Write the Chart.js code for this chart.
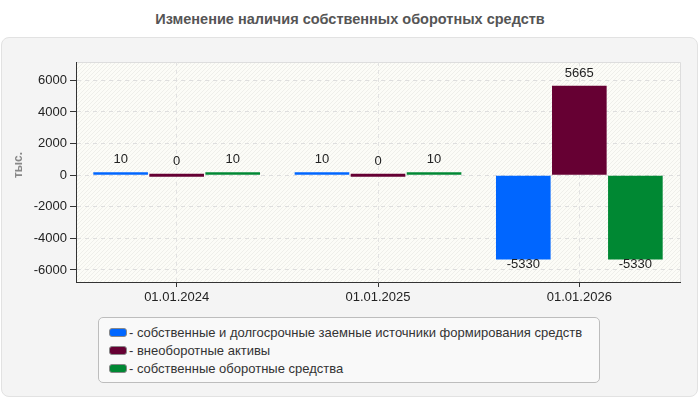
<!DOCTYPE html>
<html>
<head>
<meta charset="utf-8">
<script src="https://cdn.jsdelivr.net/npm/chart.js@4/dist/chart.umd.min.js"></script>
<style>
  html, body { margin: 0; padding: 0; background: #fff; }
  body { width: 700px; height: 400px; position: relative; overflow: hidden; font-family: "Liberation Sans", Arial, sans-serif; }
  #titulo { position: absolute; left: 0; top: 11px; width: 700px; text-align: center; font-size: 14.5px; font-weight: bold; color: #555; }
  #panel { position: absolute; left: 1px; top: 37px; width: 695px; height: 358px; background: #f4f4f4; border: 1px solid #e2e2e2; border-radius: 8px; }
  #grafico { position: absolute; left: 0; top: 0; }
  #leyenda { position: absolute; left: 98px; top: 317px; width: 502px; height: 66px; background: #f9f9f9; border: 1px solid #bdbdbd; border-radius: 5px; box-sizing: border-box; padding-top: 6px; }
  .item { height: 18px; line-height: 18px; font-size: 13px; color: #333; padding-left: 10px; white-space: nowrap; }
  .cuadro { display: inline-block; width: 16px; height: 7px; border-radius: 3px; border: 1px solid #888; margin-right: 2px; vertical-align: middle; position: relative; top: -1px; }
</style>
</head>
<body>
<div id="titulo">Изменение наличия собственных оборотных средств</div>
<div id="panel"></div>
<canvas id="grafico" width="700" height="400"></canvas>
<div id="leyenda"></div>
<script>
// Datos del gráfico
const categorias = ['01.01.2024', '01.01.2025', '01.01.2026'];
const nombresSeries = [
  'собственные и долгосрочные заемные источники формирования средств',
  'внеоборотные активы',
  'собственные оборотные средства'
];
const fuentesFormacion = [10, 10, -5330];
const activosFijos = [0, 0, 5665];
const capitalTrabajo = [10, 10, -5330];
const coloresSeries = ['#0066ff', '#660033', '#008833'];
const ticksY = [-6000, -4000, -2000, 0, 2000, 4000, 6000];
const tituloY = 'тыс.';

const fuente = '"Liberation Sans", Arial, sans-serif';

// Leyenda en HTML
const leyenda = document.getElementById('leyenda');
nombresSeries.forEach((nombre, i) => {
  const fila = document.createElement('div');
  fila.className = 'item';
  fila.innerHTML = '<span class="cuadro" style="background:' + coloresSeries[i] + '"></span>- ' + nombre;
  leyenda.appendChild(fila);
});

// Fondo rayado del área del gráfico
const fondoPlugin = {
  id: 'fondo',
  beforeDraw(chart) {
    const a = chart.chartArea;
    const ctx = chart.ctx;
    ctx.save();
    ctx.fillStyle = '#fcfcf7';
    ctx.fillRect(a.left, a.top, a.right - a.left, a.bottom - a.top);
    ctx.beginPath();
    ctx.rect(a.left, a.top, a.right - a.left, a.bottom - a.top);
    ctx.clip();
    ctx.strokeStyle = 'rgba(0,0,0,0.05)';
    ctx.lineWidth = 1;
    ctx.beginPath();
    for (let x = a.left - (a.bottom - a.top); x < a.right; x += 4) {
      ctx.moveTo(x, a.bottom);
      ctx.lineTo(x + (a.bottom - a.top), a.top);
    }
    ctx.stroke();
    ctx.restore();
    // borde superior y derecho claros
    ctx.save();
    ctx.strokeStyle = '#dddddd';
    ctx.beginPath();
    ctx.moveTo(a.left, a.top + 0.5);
    ctx.lineTo(a.right + 0.5, a.top + 0.5);
    ctx.lineTo(a.right + 0.5, a.bottom);
    ctx.stroke();
    ctx.restore();
  },
  afterDraw(chart) {
    // título del eje Y, un poco por encima del centro
    const ctx = chart.ctx;
    ctx.save();
    ctx.translate(19, 165);
    ctx.rotate(-Math.PI / 2);
    ctx.font = 'bold 12px ' + fuente;
    ctx.fillStyle = '#888';
    ctx.textAlign = 'center';
    ctx.textBaseline = 'middle';
    ctx.fillText(tituloY, 0, 0);
    ctx.restore();
  }
};

// Etiquetas con valores sobre/bajo las barras
const etiquetasPlugin = {
  id: 'etiquetas',
  afterDatasetsDraw(chart) {
    const ctx = chart.ctx;
    ctx.save();
    ctx.font = '13px ' + fuente;
    ctx.fillStyle = '#222';
    ctx.textAlign = 'center';
    chart.data.datasets.forEach((ds, i) => {
      chart.getDatasetMeta(i).data.forEach((bar, j) => {
        const v = ds.data[j];
        if (v < 0) {
          ctx.textBaseline = 'top';
          ctx.fillText(String(v), bar.x, bar.y - 1);
        } else {
          ctx.textBaseline = 'bottom';
          ctx.fillText(String(v), bar.x, Math.min(bar.y, bar.base) - 6);
        }
      });
    });
    ctx.restore();
  }
};

const ctx = document.getElementById('grafico');
new Chart(ctx, {
  type: 'bar',
  data: {
    labels: categorias,
    datasets: [
      { label: nombresSeries[0], data: fuentesFormacion, backgroundColor: coloresSeries[0] },
      { label: nombresSeries[1], data: activosFijos, backgroundColor: coloresSeries[1] },
      { label: nombresSeries[2], data: capitalTrabajo, backgroundColor: coloresSeries[2] }
    ]
  },
  options: {
    responsive: false,
    animation: false,
    layout: { padding: { left: 10, top: 62, right: 20, bottom: 88 } },
    datasets: { bar: { categoryPercentage: 0.835, barPercentage: 0.975, minBarLength: 3 } },
    plugins: {
      legend: { display: false },
      tooltip: { enabled: false }
    },
    scales: {
      x: {
        grid: { offset: false, color: '#e2e2e2', tickColor: '#333', tickLength: 5 },
        border: { color: '#333', dash: [4, 4] },
        ticks: { color: '#222', font: { size: 13, family: fuente }, padding: 3 },
        afterFit(s) { s.height = 30; }
      },
      y: {
        min: -6760,
        max: 7160,
        afterBuildTicks(s) { s.ticks = ticksY.map(v => ({ value: v })); },
        grid: { color: '#dedede', tickColor: '#333', tickLength: 6 },
        border: { color: '#333', dash: [4, 4] },
        ticks: { color: '#222', font: { size: 13, family: fuente }, padding: 3, callback: v => String(v) },
        afterFit(s) { s.width = 66; }
      }
    }
  },
  plugins: [fondoPlugin, etiquetasPlugin]
});
</script>
</body>
</html>
